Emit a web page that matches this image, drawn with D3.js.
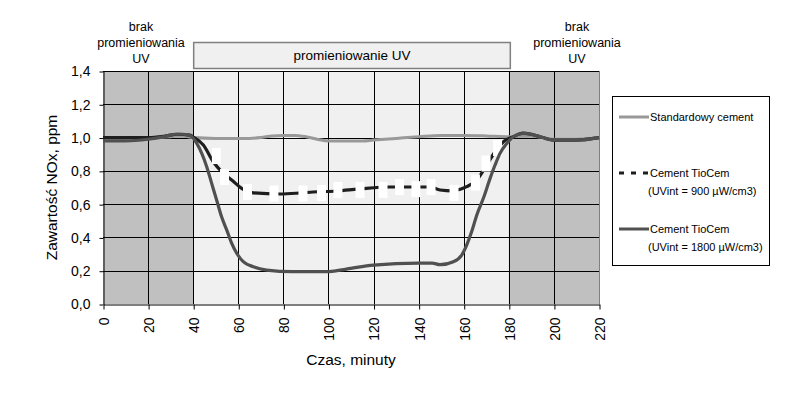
<!DOCTYPE html>
<html>
<head>
<meta charset="utf-8">
<script src="https://cdn.jsdelivr.net/npm/d3@7"></script>
<style>
  body { margin: 0; background: #fff; }
  svg { display: block; font-family: "Liberation Sans", Arial, sans-serif; }
</style>
</head>
<body>
<svg id="chart" width="787" height="396"></svg>
<script>
// time range and UV period (minutes)
const timeDomain = [0, 220];
const uvPeriod = [40, 180];
const xTicks = [0, 20, 40, 60, 80, 100, 120, 140, 160, 180, 200, 220];
const yTicks = [0, 0.2, 0.4, 0.6, 0.8, 1.0, 1.2, 1.4];

// Standardowy cement
const standardData = [
  [0, 1.00], [10, 1.00], [20, 1.00], [30, 1.005], [35, 1.01], [40, 1.00],
  [50, 0.995], [60, 0.995], [65, 0.995], [70, 1.00], [75, 1.01], [80, 1.013],
  [85, 1.013], [90, 1.005], [95, 0.99], [100, 0.98], [110, 0.98], [115, 0.98],
  [120, 0.985], [130, 0.995], [140, 1.005], [150, 1.013], [160, 1.013],
  [170, 1.01], [180, 1.005], [190, 1.01], [200, 0.99], [210, 0.99], [220, 1.00]
];

// Cement TioCem, UVint = 900
const tio900Data = [
  [0, 1.00], [20, 1.00], [28, 1.01], [33, 1.02], [38.6, 1.015], [40, 1.003],
  [44.5, 0.955], [48.9, 0.855], [53, 0.79], [57.1, 0.745], [61.5, 0.695],
  [66.7, 0.668], [78.5, 0.661], [87.3, 0.667], [93.2, 0.673], [103.8, 0.679],
  [113.1, 0.69], [127.3, 0.703], [145, 0.703], [149.5, 0.685], [155, 0.68],
  [158.5, 0.69], [161.3, 0.705], [165.8, 0.745], [170.2, 0.835], [173.9, 0.915],
  [177.6, 0.975], [182, 1.005], [186, 1.027], [190, 1.02], [195, 1.00],
  [200, 0.985], [210, 0.985], [220, 1.00]
];

// white gap blocks seen along the 900 series
const tio900Gaps = [
  [50.3, 0.889], [53.9, 0.763], [64.1, 0.673], [75.8, 0.664], [88.7, 0.664],
  [96.9, 0.667], [104.2, 0.685], [114, 0.685], [124.2, 0.685], [131.5, 0.703],
  [138.8, 0.69], [145.5, 0.703], [155.7, 0.667], [165.2, 0.73], [169.9, 0.844],
  [175, 0.937]
];

// Cement TioCem, UVint = 1800
const tio1800Data = [
  [0, 0.98], [10, 0.98], [20, 0.99], [27, 1.005], [32, 1.02], [35, 1.02],
  [38.6, 1.012], [41.6, 0.965], [43.8, 0.905], [46, 0.825], [48.2, 0.725],
  [50.4, 0.625], [52.6, 0.524], [54.9, 0.444], [57.1, 0.364], [59.3, 0.305],
  [62.2, 0.254], [66.7, 0.224], [72.6, 0.204], [84, 0.194], [99, 0.194],
  [108, 0.21], [120, 0.234], [140, 0.246], [146, 0.246], [149.5, 0.236],
  [155.4, 0.254], [159.1, 0.294], [161.3, 0.354], [163.5, 0.434], [165.8, 0.535],
  [168.7, 0.635], [171.7, 0.755], [173.9, 0.835], [176.1, 0.905], [179.1, 0.965],
  [182, 1.005], [186.4, 1.025], [190, 1.02], [195, 1.00], [200, 0.985],
  [210, 0.985], [220, 1.00]
];

const regionLabel = ["brak", "promieniowania", "UV"];
const uvLabel = "promieniowanie UV";
const legendLabels = [
  ["Standardowy cement"],
  ["Cement TioCem", "(UVint = 900 µW/cm3)"],
  ["Cement TioCem", "(UVint = 1800 µW/cm3)"]
];

const svg = d3.select("#chart");
const pLeft = 103, pRight = 599, pTop = 71, pBottom = 304;

const x = d3.scaleLinear().domain(timeDomain).range([pLeft, pRight]);
const y = d3.scaleLinear().domain([0, 1.4]).range([pBottom, pTop]);

// background bands
const bands = [
  [timeDomain[0], uvPeriod[0], "#c0c0c0"],
  [uvPeriod[0], uvPeriod[1], "#f0f0f0"],
  [uvPeriod[1], timeDomain[1], "#c0c0c0"]
];
svg.append("g").selectAll("rect").data(bands).join("rect")
  .attr("x", d => x(d[0]))
  .attr("y", pTop)
  .attr("width", d => x(d[1]) - x(d[0]))
  .attr("height", pBottom - pTop)
  .attr("fill", d => d[2]);

// grid
const grid = svg.append("g").attr("stroke", "#000").attr("stroke-width", 1);
grid.selectAll(".hg").data(yTicks.slice(1)).join("line")
  .attr("x1", pLeft).attr("x2", pRight)
  .attr("y1", d => Math.round(y(d)) + 0.5).attr("y2", d => Math.round(y(d)) + 0.5);
grid.selectAll(".vg").data(xTicks.slice(1, -1)).join("line")
  .attr("y1", pTop).attr("y2", pBottom)
  .attr("x1", d => Math.round(x(d)) + 0.5).attr("x2", d => Math.round(x(d)) + 0.5);
svg.append("line")
  .attr("x1", Math.round(x(220)) + 0.5).attr("x2", Math.round(x(220)) + 0.5)
  .attr("y1", pTop).attr("y2", pBottom)
  .attr("stroke", "#808080");

// axes
const yAxis = d3.axisLeft(y)
  .tickValues(yTicks)
  .tickFormat(d => d3.format(".1f")(d).replace(".", ","))
  .tickSizeInner(4).tickSizeOuter(0).tickPadding(9);
const yg = svg.append("g")
  .attr("transform", "translate(" + (pLeft + 0.5) + ",0.5)")
  .call(yAxis);
yg.selectAll("text").attr("font-size", 14).attr("fill", "#000").attr("font-family", null);

const xAxis = d3.axisBottom(x)
  .tickValues(xTicks)
  .tickFormat(d3.format("d"))
  .tickSizeInner(5).tickSizeOuter(0);
const xg = svg.append("g")
  .attr("transform", "translate(0.5," + (pBottom + 0.5) + ")")
  .call(xAxis);
xg.selectAll("text")
  .attr("font-size", 14).attr("fill", "#000").attr("font-family", null)
  .attr("transform", "rotate(-90)")
  .attr("x", -13).attr("y", 0).attr("dy", "0.35em")
  .attr("text-anchor", "end");
svg.selectAll(".domain, .tick line").attr("stroke", "#000");

// axis titles
svg.append("text")
  .attr("x", (pLeft + pRight) / 2).attr("y", 365)
  .attr("text-anchor", "middle").attr("font-size", 15.5)
  .text("Czas, minuty");
svg.append("text")
  .attr("transform", "translate(57," + ((pTop + pBottom) / 2) + ") rotate(-90)")
  .attr("text-anchor", "middle").attr("font-size", 15.5)
  .text("Zawartość NOx, ppm");

// series
const line = d3.line()
  .x(d => x(d[0]))
  .y(d => y(d[1]))
  .curve(d3.curveMonotoneX);

svg.append("path").datum(standardData)
  .attr("d", line).attr("fill", "none")
  .attr("stroke", "#999999").attr("stroke-width", 3);

svg.append("path").datum(tio900Data)
  .attr("d", line).attr("fill", "none")
  .attr("stroke", "#1e1e1e").attr("stroke-width", 3.2);

svg.append("g").selectAll("rect").data(tio900Gaps).join("rect")
  .attr("x", d => x(d[0]) - 4.5)
  .attr("y", d => y(d[1]) - 8)
  .attr("width", 9).attr("height", 16)
  .attr("fill", "#fff");

svg.append("path").datum(tio1800Data)
  .attr("d", line).attr("fill", "none")
  .attr("stroke", "#505050").attr("stroke-width", 3.2);

// region labels above plot
const labelCenters = [141, 577];
labelCenters.forEach(cx => {
  const t = svg.append("text")
    .attr("text-anchor", "middle").attr("font-size", 12.5);
  regionLabel.forEach((s, i) => {
    t.append("tspan").attr("x", cx).attr("y", 31 + i * 16).text(s);
  });
});

svg.append("rect")
  .attr("x", x(uvPeriod[0]) + 0.5).attr("y", 42.5)
  .attr("width", x(uvPeriod[1]) - x(uvPeriod[0]) + 1).attr("height", 26)
  .attr("fill", "#f0f0f0").attr("stroke", "#808080").attr("stroke-width", 1.5);
svg.append("text")
  .attr("x", (x(uvPeriod[0]) + x(uvPeriod[1])) / 2 + 1).attr("y", 60)
  .attr("text-anchor", "middle").attr("font-size", 13.5)
  .text(uvLabel);

// legend
const legend = svg.append("g");
legend.append("rect")
  .attr("x", 612.5).attr("y", 96.5)
  .attr("width", 157).attr("height", 169)
  .attr("fill", "#fff").attr("stroke", "#000");

const legendStyles = [
  { color: "#999999", dash: null },
  { color: "#1e1e1e", dash: "5,7" },
  { color: "#505050", dash: null }
];
const legendY = [117, 173, 229];
legendLabels.forEach((lines, i) => {
  legend.append("line")
    .attr("x1", 619).attr("x2", 649)
    .attr("y1", legendY[i]).attr("y2", legendY[i])
    .attr("stroke", legendStyles[i].color).attr("stroke-width", 3)
    .attr("stroke-dasharray", legendStyles[i].dash);
  lines.forEach((s, j) => {
    legend.append("text")
      .attr("x", j === 0 ? 650 : 648)
      .attr("y", legendY[i] + 4 + j * 18)
      .attr("font-size", 11)
      .text(s);
  });
});
</script>
</body>
</html>
